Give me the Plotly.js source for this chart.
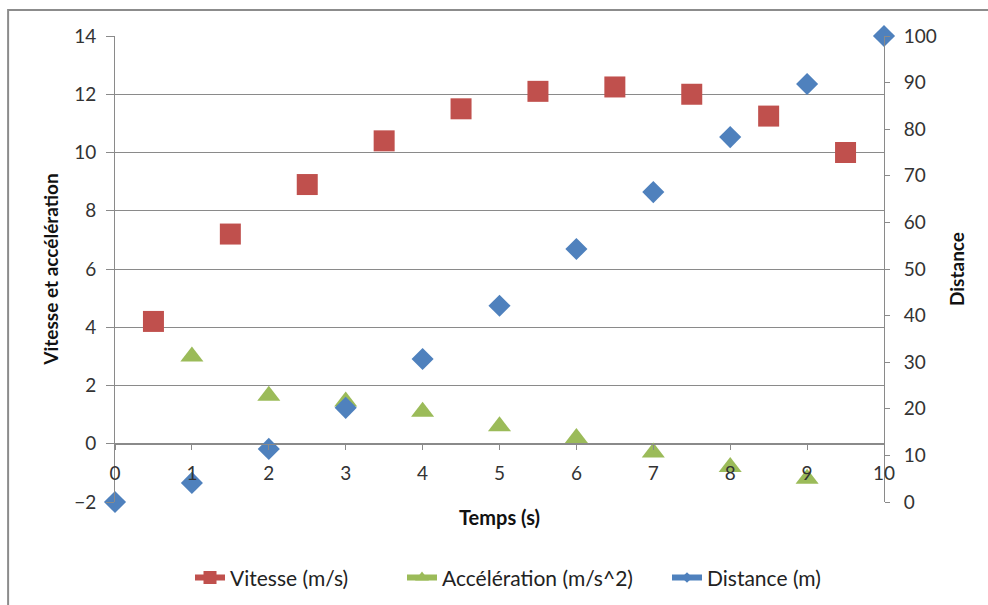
<!DOCTYPE html>
<html>
<head>
<meta charset="utf-8">
<script src="https://cdn.plot.ly/plotly-3.0.1.min.js"></script>
<style>
html,body{margin:0;padding:0;background:#fff;}
#chart{width:988px;height:605px;}
</style>
</head>
<body>
<div id="chart"></div>
<script>
// Data
const vitesseT = [0.5, 1.5, 2.5, 3.5, 4.5, 5.5, 6.5, 7.5, 8.5, 9.5];
const vitesse = [4.2, 7.2, 8.9, 10.4, 11.5, 12.1, 12.25, 12.0, 11.25, 10.0];
const accelT = [1, 2, 3, 4, 5, 6, 7, 8, 9];
const accel = [3.0, 1.65, 1.45, 1.1, 0.6, 0.2, -0.3, -0.8, -1.2];
const distT = [0, 1, 2, 3, 4, 5, 6, 7, 8, 9, 10];
const distance = [0, 4.1, 11.4, 20.2, 30.7, 42.1, 54.3, 66.5, 78.3, 89.7, 100];
const names = ["Vitesse (m/s)", "Accélération (m/s^2)", "Distance (m)"];

const RED = "#C0504D", GREEN = "#9BBB59", BLUE = "#4F81BD";
const FONT = "Lato, 'Open Sans', sans-serif";

const traces = [
  {x: vitesseT, y: vitesse, mode: "markers", name: names[0], showlegend: false, cliponaxis: false,
   marker: {symbol: "square", size: 21, color: RED}, yaxis: "y", xaxis: "x"},
  {x: accelT, y: accel, mode: "markers", name: names[1], showlegend: false, cliponaxis: false,
   marker: {symbol: "triangle-up", size: 20, color: GREEN}, yaxis: "y", xaxis: "x"},
  {x: distT, y: distance, mode: "markers", name: names[2], showlegend: false, cliponaxis: false,
   marker: {symbol: "diamond", size: 17, color: BLUE}, yaxis: "y2", xaxis: "x"},
  // legend entries (line + marker, as in the original legend)
  {x: [null], y: [null], mode: "lines+markers", name: names[0], legend: "legend",
   line: {color: RED, width: 6}, marker: {symbol: "square", size: 13, color: RED}},
  {x: [null], y: [null], mode: "lines+markers", name: names[1], legend: "legend2",
   line: {color: GREEN, width: 6}, marker: {symbol: "triangle-up", size: 12, color: GREEN}},
  {x: [null], y: [null], mode: "lines+markers", name: names[2], legend: "legend3",
   line: {color: BLUE, width: 6}, marker: {symbol: "diamond", size: 8, color: BLUE}}
];

const legBase = {orientation: "h", xref: "container", yref: "container",
                 y: 0.045, yanchor: "middle", xanchor: "left",
                 font: {size: 21, color: "#222"}, itemsizing: "trace",
                 bgcolor: "rgba(0,0,0,0)"};

const layout = {
  width: 988, height: 605,
  margin: {l: 115, r: 104, t: 36, b: 103, pad: 0},
  paper_bgcolor: "#fff", plot_bgcolor: "#fff",
  font: {family: FONT, size: 19, color: "#333"},
  showlegend: true,
  legend: Object.assign({}, legBase, {x: 190 / 988}),
  legend2: Object.assign({}, legBase, {x: 402 / 988}),
  legend3: Object.assign({}, legBase, {x: 667 / 988}),
  xaxis: {
    range: [0, 10], dtick: 1, tick0: 0, automargin: false,
    anchor: "free", position: 0.125,
    showgrid: false, zeroline: false,
    showline: true, linecolor: "#8a8a8a", linewidth: 1,
    ticks: "outside", ticklen: 5, tickcolor: "#8a8a8a",
    ticklabelstandoff: 7,
    tickfont: {size: 19, color: "#333"},
    title: {text: "<b>Temps (s)</b>", font: {size: 20, color: "#111"}, standoff: 28}
  },
  yaxis: {
    range: [-2, 14], dtick: 2, tick0: 0, automargin: false,
    showgrid: true, gridcolor: "#8a8a8a", gridwidth: 1,
    zeroline: false,
    showline: true, linecolor: "#8a8a8a", linewidth: 1,
    ticks: "outside", ticklen: 8, tickcolor: "#8a8a8a",
    ticklabelstandoff: 6,
    tickfont: {size: 19, color: "#333"},
    title: {text: "<b>Vitesse et accélération</b>", font: {size: 19, color: "#111"}, standoff: 10}
  },
  yaxis2: {
    range: [0, 100], dtick: 10, tick0: 0, automargin: false,
    overlaying: "y", side: "right",
    showgrid: false, zeroline: false,
    showline: true, linecolor: "#8a8a8a", linewidth: 1,
    ticks: "outside", ticklen: 5, tickcolor: "#8a8a8a",
    ticklabelstandoff: 10,
    tickfont: {size: 19, color: "#333"},
    title: {text: "<b>Distance</b>", font: {size: 19, color: "#111"}, standoff: 14}
  },
  shapes: [
    {type: "rect", xref: "paper", yref: "paper",
     x0: -0.139, x1: 1.3, y0: -0.35, y1: 1.056,
     line: {color: "#8c8c8c", width: 2}, fillcolor: "rgba(0,0,0,0)", layer: "below"}
  ]
};

Plotly.newPlot("chart", traces, layout, {displayModeBar: false, staticPlot: true});
</script>
</body>
</html>
